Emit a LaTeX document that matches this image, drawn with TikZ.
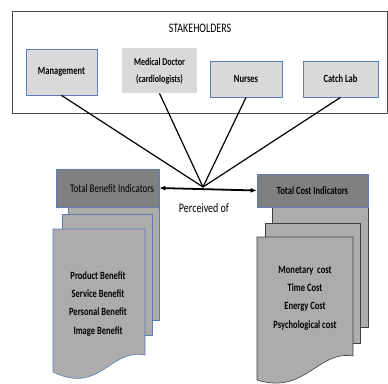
\documentclass[tikz,border=0pt]{standalone}
\usepackage{fontspec}
\setmainfont{Carlito}
\usetikzlibrary{arrows.meta}
\definecolor{pagegray}{HTML}{AEABAB}
\definecolor{headgray}{HTML}{808080}
\definecolor{boxgray}{HTML}{D9D9D9}
\definecolor{edgeblue}{HTML}{5B7DB8}
\newcommand{\tall}[1]{\scalebox{1}[1.3]{#1}}
\begin{document}
\begin{tikzpicture}[x=1pt,y=-1pt,
    holder/.style={draw=edgeblue,fill=boxgray,line width=0.8pt,font=\fontsize{8.5}{10}\selectfont\bfseries,inner sep=0pt},
    header/.style={draw=edgeblue,fill=headgray,line width=0.6pt,inner sep=0pt},
    page/.style={fill=pagegray,line width=0.6pt},
    items/.style={font=\fontsize{8.5}{14.2}\selectfont\bfseries,inner sep=0pt}]
  \useasboundingbox (0,0) rectangle (388,383);
  % stakeholders
  \draw[draw=black!70,line width=1pt] (12,11) rectangle (387,113);
  \draw
    (200,28) node[font=\fontsize{10}{12}\selectfont] (title){\tall{STAKEHOLDERS}}
    (61.5,72) node[holder,minimum width=71pt,minimum height=46pt] (mgmt){\tall{Management}}
    (159.5,70.5) node[holder,draw=none,minimum width=75pt,minimum height=45pt,font=\fontsize{8}{13}\selectfont\bfseries] (doctor){\tall{\begin{tabular}{@{}c@{}}Medical Doctor\\(cardiologists)\end{tabular}}}
    (246,79) node[holder,minimum width=72pt,minimum height=36pt] (nurses){\tall{Nurses}}
    (340.5,79) node[holder,minimum width=75pt,minimum height=36pt] (lab){\tall{Catch Lab}};
  % benefit pages
  \draw[page,draw=edgeblue] (68,200) rectangle (159,320);
  \draw[page,draw=edgeblue] (62,214) rectangle (152,335);
  \draw[page,draw=edgeblue] (53,229) -- (145,229) -- (145,355)
    .. controls (110,348) and (100,395) .. (53,372) -- cycle;
  \draw (107.5,188) node[header,minimum width=103pt,minimum height=38pt,font=\fontsize{9}{10}\selectfont] (benefit){\hspace{9pt}\tall{Total Benefit Indicators}};
  \draw (98,303) node[items] (benefitlist){\tall{\begin{tabular}{@{}c@{}}Product Benefit\\Service Benefit\\Personal Benefit\\Image Benefit\end{tabular}}};
  % cost pages
  \draw[page,draw=black!75] (272,200) rectangle (368,327);
  \draw[page,draw=black!75] (265,223) rectangle (360,343);
  \draw[page,draw=black!75] (257,237) -- (353,237) -- (353,356)
    .. controls (318,350) and (305,395) .. (257,380) -- cycle;
  \draw (312.5,190.5) node[header,minimum width=111pt,minimum height=33pt,font=\fontsize{8.5}{10}\selectfont\bfseries] (cost){\tall{Total Cost Indicators}};
  \draw (305,297) node[items] (costlist){\tall{\begin{tabular}{@{}c@{}}Monetary\ \ cost\\Time Cost\\Energy Cost\\Psychological cost\end{tabular}}};
  % perceived
  \coordinate (hub) at (203,187);
  \draw (204,208) node[font=\fontsize{10}{12}\selectfont] (perceived){\tall{Perceived of}};
  \begin{scope}[line width=1.2pt]
    \draw (mgmt.south) to (hub);
    \draw (doctor.south) to (hub);
    \draw (nurses.south) to (hub);
    \draw (lab.south) to (hub);
    \draw[{Latex[length=6pt,width=5pt]}-{Latex[length=6pt,width=5pt]},line width=1.8pt] (benefit.east) to (cost.west);
  \end{scope}
\end{tikzpicture}
\end{document}
